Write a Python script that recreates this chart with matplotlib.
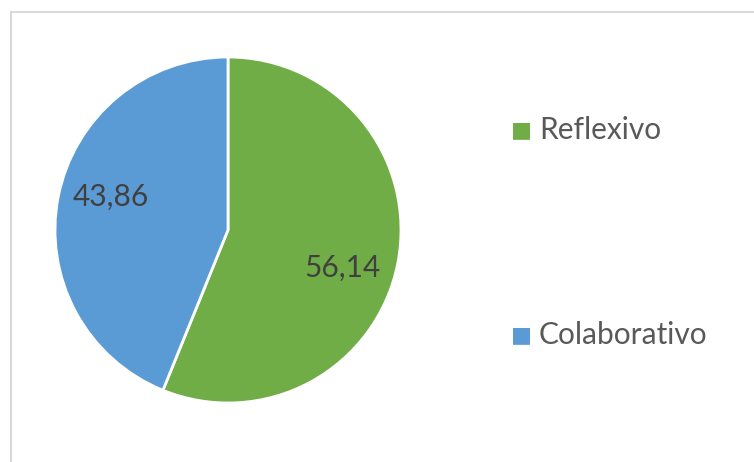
import matplotlib
matplotlib.use("Agg")
import matplotlib.pyplot as plt
from matplotlib.lines import Line2D

categories = ["Reflexivo", "Colaborativo"]
values = [56.14, 43.86]
colors = ["#70AD47", "#5B9BD5"]
value_labels = ["56,14", "43,86"]

W, H = 754, 462
fig = plt.figure(figsize=(W / 100, H / 100), dpi=100)
fig.patch.set_facecolor("white")

# chart frame (left and top visible)
fig.add_artist(Line2D([11 / W, 11 / W], [0, 1 - 12 / H], color="#D9D9D9", lw=1.5, transform=fig.transFigure))
fig.add_artist(Line2D([11 / W, 1], [1 - 12 / H, 1 - 12 / H], color="#D9D9D9", lw=1.5, transform=fig.transFigure))

cx, cy, r = 228, 230, 173
ax = fig.add_axes([(cx - r) / W, (H - cy - r) / H, 2 * r / W, 2 * r / H])
wedges, _ = ax.pie(values, colors=colors, startangle=90, counterclock=False,
                   wedgeprops=dict(edgecolor="white", linewidth=2))
ax.set_xlim(-1, 1)
ax.set_ylim(-1, 1)
ax.set_aspect("equal")
ax.axis("off")

font = ["Lato", "DejaVu Sans"]
label_pos = [(0.66, -0.22), (-0.68, 0.19)]
for (x, y), t in zip(label_pos, value_labels):
    ax.text(x, y, t, ha="center", va="center", fontsize=21.5, color="#404040", family=font)

for i, lab in enumerate(categories):
    ypix = [130, 335][i]
    fig.text(521 / W, 1 - ypix / H, "\u25A0", color=colors[i], fontsize=16, ha="center", va="center", family="DejaVu Sans")
    fig.text(539 / W, 1 - ypix / H, lab, color="#595959", fontsize=21.5, ha="left", va="center", family=font)

fig.savefig("out.png", dpi=100)
